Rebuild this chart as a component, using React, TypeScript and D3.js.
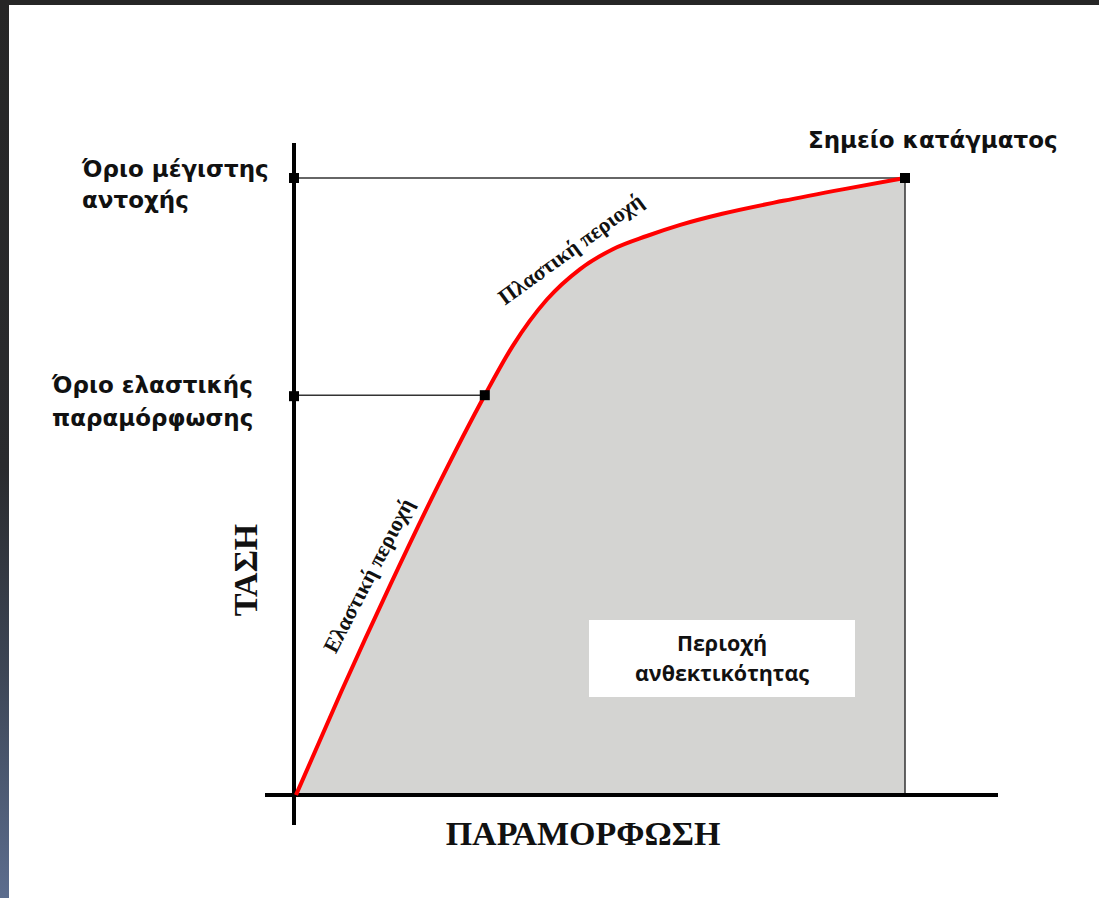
import React from 'react';
import * as d3 from 'd3';

// stress-strain curve (arbitrary units, 0..100)
const strain = [0, 7.5, 15.5, 23.3, 31.0, 35.6, 41.2, 46.6, 52.1, 57.6, 63.1, 70, 80, 90, 100];
const stress = [0, 16.9, 34.1, 50.1, 64.8, 72.8, 80.3, 85.2, 88.5, 90.6, 92.4, 94.2, 96.3, 98.2, 100];

const yieldPoint = { strain: 31.0, stress: 64.8 };
const fracturePoint = { strain: 100, stress: 100 };

const yLabelTop = ['Όριο μέγιστης', 'αντοχής'];
const yLabelYield = ['Όριο ελαστικής', 'παραμόρφωσης'];
const fractureLabel = 'Σημείο κατάγματος';
const toughnessLabel = ['Περιοχή', 'ανθεκτικότητας'];
const elasticLabel = 'Ελαστική περιοχή';
const plasticLabel = 'Πλαστική περιοχή';
const xTitle = 'ΠΑΡΑΜΟΡΦΩΣΗ';
const yTitle = 'ΤΑΣΗ';

const W = 1099;
const H = 898;

const App = () => {
  const x = d3.scaleLinear().domain([0, 100]).range([296, 905]);
  const y = d3.scaleLinear().domain([0, 100]).range([795, 178]);

  const pts = strain.map((s, i) => ({ s, t: stress[i] }));

  const curve = d3.curveMonotoneX;

  const line = d3
    .line<{ s: number; t: number }>()
    .x(d => x(d.s))
    .y(d => y(d.t))
    .curve(curve);

  const area = d3
    .area<{ s: number; t: number }>()
    .x(d => x(d.s))
    .y0(y(0))
    .y1(d => y(d.t))
    .curve(curve);

  const axisX = x(0) - 2;
  const axisY = y(0);
  const sq = 10;

  const sansFont = '"DejaVu Sans", Verdana, sans-serif';
  const serifFont = '"Liberation Serif", "DejaVu Serif", serif';

  return (
    <svg
      width={W}
      height={H}
      style={{ position: 'absolute', top: 0, left: 0, display: 'block' }}
    >
      <defs>
        <linearGradient id="edge" x1="0" y1="0" x2="0" y2="1">
          <stop offset="0%" stopColor="#262626" />
          <stop offset="52%" stopColor="#2a2b2e" />
          <stop offset="75%" stopColor="#3d4656" />
          <stop offset="100%" stopColor="#5c6d8e" />
        </linearGradient>
      </defs>

      {/* frame */}
      <rect x={0} y={0} width={W} height={H} fill="#ffffff" />
      <rect x={0} y={0} width={W} height={5} fill="#262626" />
      <rect x={0} y={0} width={9} height={H} fill="url(#edge)" />

      {/* toughness area */}
      <path d={area(pts) ?? ''} fill="#d4d4d2" />

      {/* guide lines */}
      <line x1={axisX} x2={x(fracturePoint.strain)} y1={y(fracturePoint.stress)} y2={y(fracturePoint.stress)} stroke="#333" strokeWidth={1.5} />
      <line x1={axisX} x2={x(yieldPoint.strain)} y1={y(yieldPoint.stress)} y2={y(yieldPoint.stress)} stroke="#333" strokeWidth={1.5} />
      <line x1={x(fracturePoint.strain)} x2={x(fracturePoint.strain)} y1={y(fracturePoint.stress)} y2={axisY} stroke="#333" strokeWidth={1.5} />

      {/* axes */}
      <line x1={265} x2={998} y1={axisY} y2={axisY} stroke="#000" strokeWidth={4} />
      <line x1={axisX} x2={axisX} y1={143} y2={825} stroke="#000" strokeWidth={4} />

      {/* curve */}
      <path d={line(pts) ?? ''} fill="none" stroke="#ff0000" strokeWidth={4} />

      {/* markers */}
      {[
        [axisX, y(fracturePoint.stress)],
        [axisX, y(yieldPoint.stress) + 1],
        [x(yieldPoint.strain), y(yieldPoint.stress)],
        [x(fracturePoint.strain), y(fracturePoint.stress)],
      ].map(([cx, cy], i) => (
        <rect key={i} x={cx - sq / 2} y={cy - sq / 2} width={sq} height={sq} fill="#000" />
      ))}

      {/* left labels */}
      <g fontFamily={sansFont} fontWeight="bold" fontSize={23} fill="#111">
        <text x={82} y={177}>{yLabelTop[0]}</text>
        <text x={82} y={208}>{yLabelTop[1]}</text>
        <text x={52} y={393}>{yLabelYield[0]}</text>
        <text x={52} y={426}>{yLabelYield[1]}</text>
        <text x={808} y={148}>{fractureLabel}</text>
      </g>

      {/* toughness box */}
      <rect x={589} y={620} width={266} height={77} fill="#ffffff" />
      <g fontFamily='"Open Sans", "Noto Sans", sans-serif' fontWeight="bold" fontSize={21.5} fill="#111" textAnchor="middle">
        <text x={722} y={651}>{toughnessLabel[0]}</text>
        <text x={722} y={681}>{toughnessLabel[1]}</text>
      </g>

      {/* region labels along curve */}
      <g fontFamily={serifFont} fontWeight="bold" fontSize={22} fill="#111" textAnchor="middle">
        <text transform="translate(375,579) rotate(-62.5)">{elasticLabel}</text>
        <text transform="translate(575,255) rotate(-36)">{plasticLabel}</text>
      </g>

      {/* axis titles */}
      <g fontFamily={serifFont} fontWeight="bold" fontSize={34} fill="#111" textAnchor="middle">
        <text x={583} y={845}>{xTitle}</text>
        <text transform="translate(257,570) rotate(-90)">{yTitle}</text>
      </g>
    </svg>
  );
};

export default App;
